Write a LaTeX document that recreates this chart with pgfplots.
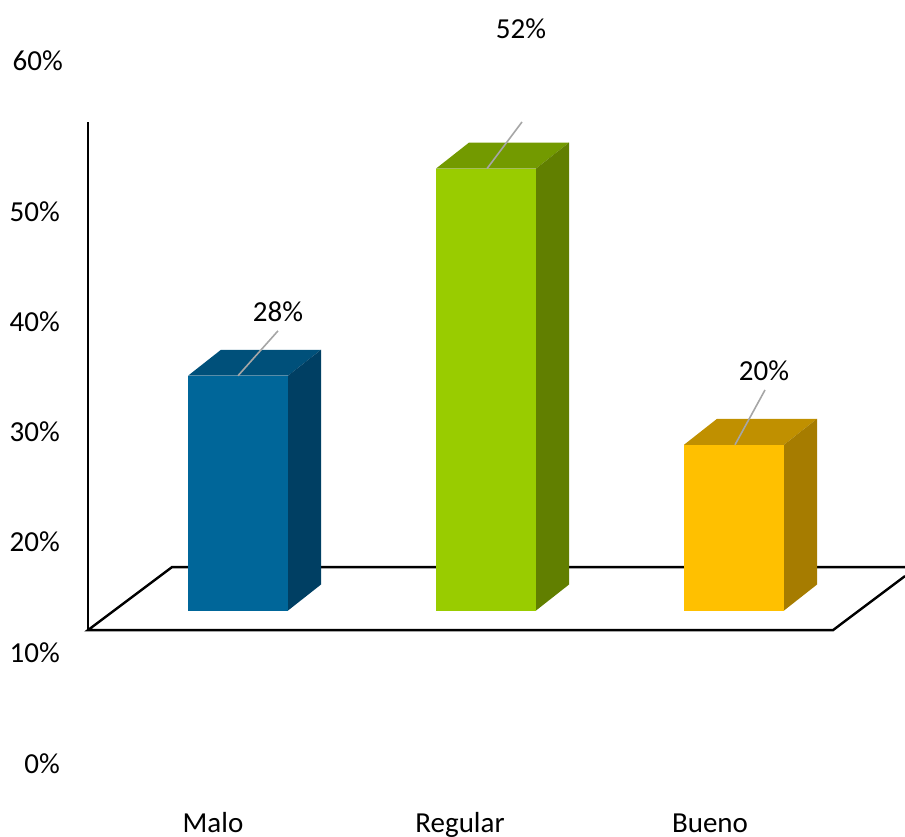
\documentclass[border=0pt]{standalone}
\usepackage{pgfplots}
\pgfplotsset{compat=1.18}
\usepackage{fontspec}
\setmainfont{Carlito}
\definecolor{bluefront}{HTML}{006699}
\definecolor{bluetop}{HTML}{00507A}
\definecolor{blueside}{HTML}{003F63}
\definecolor{greenfront}{HTML}{99CC00}
\definecolor{greentop}{HTML}{739A00}
\definecolor{greenside}{HTML}{617F00}
\definecolor{goldfront}{HTML}{FFC000}
\definecolor{goldtop}{HTML}{C09000}
\definecolor{goldside}{HTML}{A67C00}
\definecolor{leader}{HTML}{A6A6A6}
% Draws one 3D bar: left edge, right edge, value, and its three face colours
\newcommand{\threedbar}[6]{%
  \addplot[draw=none,fill=#4] coordinates {(#1,0.8) (#2,0.8) (#2,#3) (#1,#3)} -- cycle;
  \addplot[draw=none,fill=#5] coordinates {(#1,#3) (#2,#3) (#2+33,#3+3.01) (#1+33,#3+3.01)} -- cycle;
  \addplot[draw=none,fill=#6] coordinates {(#2,0.8) (#2+33,3.81) (#2+33,#3+3.01) (#2,#3)} -- cycle;
}
\begin{document}
\begin{tikzpicture}
\useasboundingbox (0pt,-31pt) rectangle (905pt,805pt);
\begin{axis}[
  at={(61pt,0pt)}, anchor=south west,
  scale only axis, width=844pt, height=805pt,
  xmin=61, xmax=905, ymin=-21.73, ymax=71.53,
  axis line style={draw=none},
  major tick length=0pt,
  clip=false,
  font=\fontsize{29}{34}\selectfont,
  ytick={-16.88,-4.01,8.85,21.6,34.33,47.08,64.58},
  yticklabels={0\%,10\%,20\%,30\%,40\%,50\%,60\%\kern-3pt},
  yticklabel style={inner sep=0pt, xshift=-1pt, yshift=-1pt},
  xtick={213,460,710},
  xticklabels={Malo,Regular,Bueno},
  xticklabel style={anchor=base, yshift=-27pt},
]
% floor plane and value axis
\addplot[black,line width=2.4pt,line join=miter] coordinates {(905,5.83) (172,5.83) (88,-1.47) (833,-1.47) (905,4.79)};
\addplot[black,line width=2.4pt] coordinates {(88,57.39) (88,-1.6)};
% bars
\threedbar{188}{288}{28}{bluefront}{bluetop}{blueside}
\threedbar{436}{536}{52}{greenfront}{greentop}{greenside}
\threedbar{684}{784}{20}{goldfront}{goldtop}{goldside}
% leader lines
\addplot[leader,line width=1.6pt] coordinates {(238,28) (278,33.2)};
\addplot[leader,line width=1.6pt] coordinates {(487,52) (522,57.4)};
\addplot[leader,line width=1.6pt] coordinates {(735,20) (765,26.35)};
% value labels
\node at (axis cs:278,35.4) {28\%};
\node at (axis cs:521,68.2) {52\%};
\node at (axis cs:764,28.6) {20\%};
\end{axis}
\end{tikzpicture}
\end{document}
